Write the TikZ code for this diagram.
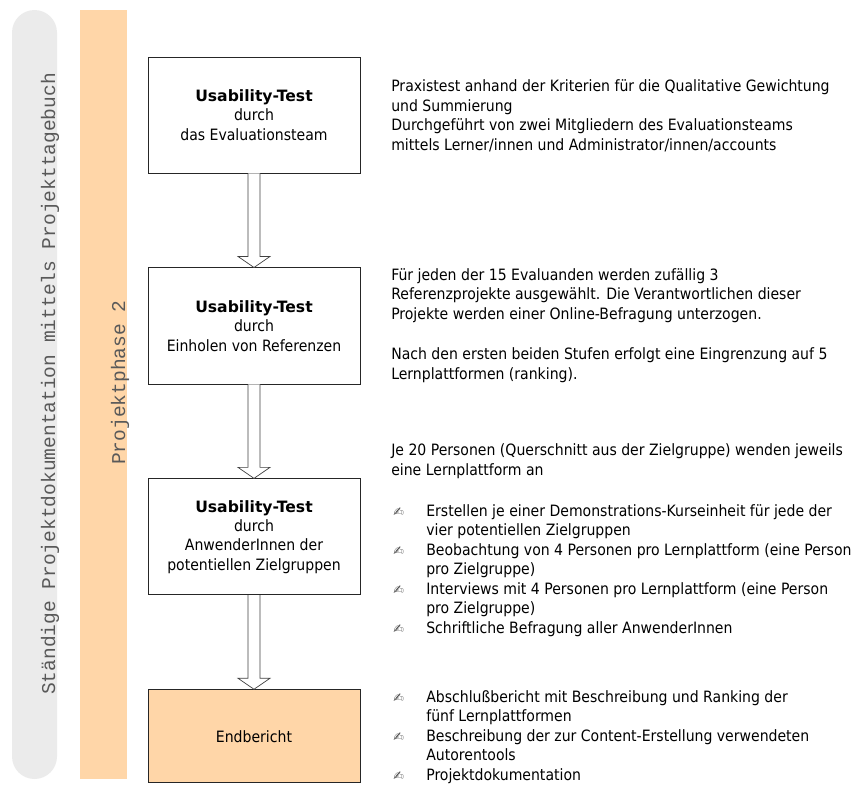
\documentclass[tikz,border=0pt]{standalone}
\usepackage{fontspec}
\setmainfont{DejaVu Sans Condensed}
\newfontfamily\bandfont{Liberation Mono}
\newfontfamily\widefont{DejaVu Sans}
\usetikzlibrary{positioning,calc}
\definecolor{bandgrey}{RGB}{235,235,235}
\definecolor{phaseorange}{RGB}{255,214,168}
\newcommand\txtfont{\fontsize{11.1}{13.8}\selectfont}
\newcommand\head[1]{{\widefont\bfseries #1}}
\newcommand\pen{\makebox[23.5pt][l]{\widefont\fontsize{9}{9}\selectfont\color{black!70}✍}}
\newcommand\hang{\hspace*{23.5pt}}
\tikzset{
    stage/.style = {rectangle, minimum width=5.3cm, minimum height=2.9cm, align=center, draw=black!85, line width=0.6pt, fill=white, font=\txtfont},
    result/.style = {stage, minimum height=2.325cm, fill=phaseorange},
    note/.style = {anchor=base west, align=left, inner sep=0pt, font=\txtfont},
    bandtext/.style = {rotate=90, anchor=base west, inner sep=0pt, text=black!65, font=\bandfont\fontsize{13.9}{16}\selectfont},
    hollow/.style = {draw=black!75, fill=white, line width=0.5pt}
}
% hollow block arrow from one stage to the next
\newcommand\hollowarrow[2]{%
    \draw [hollow] ($(#1.south)+(-6,0)$) -- ($(#2.north)+(-6,-11)$) -- ($(#2.north)+(-16,-11)$)
        -- (#2.north) -- ($(#2.north)+(16,-11)$) -- ($(#2.north)+(6,-11)$) -- ($(#1.south)+(6,0)$);}

\begin{document}
\begin{tikzpicture}[x=0.025cm, y=-0.025cm, node distance=2.35cm]
\useasboundingbox (0,0) rectangle (860,785);

% side bands
\fill [bandgrey, rounded corners=16pt] (12,10) rectangle (57,779);
\fill [phaseorange] (80,10) rectangle (127,779);
\node (journal) [bandtext] at (55,695) {Ständige Projektdokumentation mittels Projekttagebuch};
\node (phase) [bandtext] at (125,465) {Projektphase 2};

% stages
\node (usab1) [stage] at (254,115) {\head{Usability-Test}\\durch\\das Evaluationsteam};
\node (usab2) [stage, below=of usab1] {\head{Usability-Test}\\durch\\Einholen von Referenzen};
\node (usab3) [stage, below=of usab2] {\head{Usability-Test}\\durch\\AnwenderInnen der\\potentiellen Zielgruppen};
\node (report) [result, below=of usab3] {Endbericht};

\hollowarrow{usab1}{usab2}
\hollowarrow{usab2}{usab3}
\hollowarrow{usab3}{report}

% notes (placed at the baseline of their last line)
\node (noteA) [note] at (391,150) {Praxistest anhand der Kriterien für die Qualitative Gewichtung\\und Summierung\\Durchgeführt von zwei Mitgliedern des Evaluationsteams\\mittels Lerner/innen und Administrator/innen/accounts};
\node (noteB) [note] at (391,319) {Für jeden der 15 Evaluanden werden zufällig 3\\Referenzprojekte ausgewählt. Die Verantwortlichen dieser\\Projekte werden einer Online-Befragung unterzogen.};
\node (noteC) [note] at (391,379) {Nach den ersten beiden Stufen erfolgt eine Eingrenzung auf 5\\Lernplattformen (ranking).};
\node (noteD) [note] at (391,475) {Je 20 Personen (Querschnitt aus der Zielgruppe) wenden jeweils\\eine Lernplattform an};
\node (noteE) [note] at (393,633) {\pen Erstellen je einer Demonstrations-Kurseinheit für jede der\\\hang vier potentiellen Zielgruppen\\\pen Beobachtung von 4 Personen pro Lernplattform (eine Person\\\hang pro Zielgruppe)\\\pen Interviews mit 4 Personen pro Lernplattform (eine Person\\\hang pro Zielgruppe)\\\pen Schriftliche Befragung aller AnwenderInnen};
\node (noteF) [note] at (393,780) {\pen Abschlußbericht mit Beschreibung und Ranking der\\\hang fünf Lernplattformen\\\pen Beschreibung der zur Content-Erstellung verwendeten\\\hang Autorentools\\\pen Projektdokumentation};
\end{tikzpicture}
\end{document}
